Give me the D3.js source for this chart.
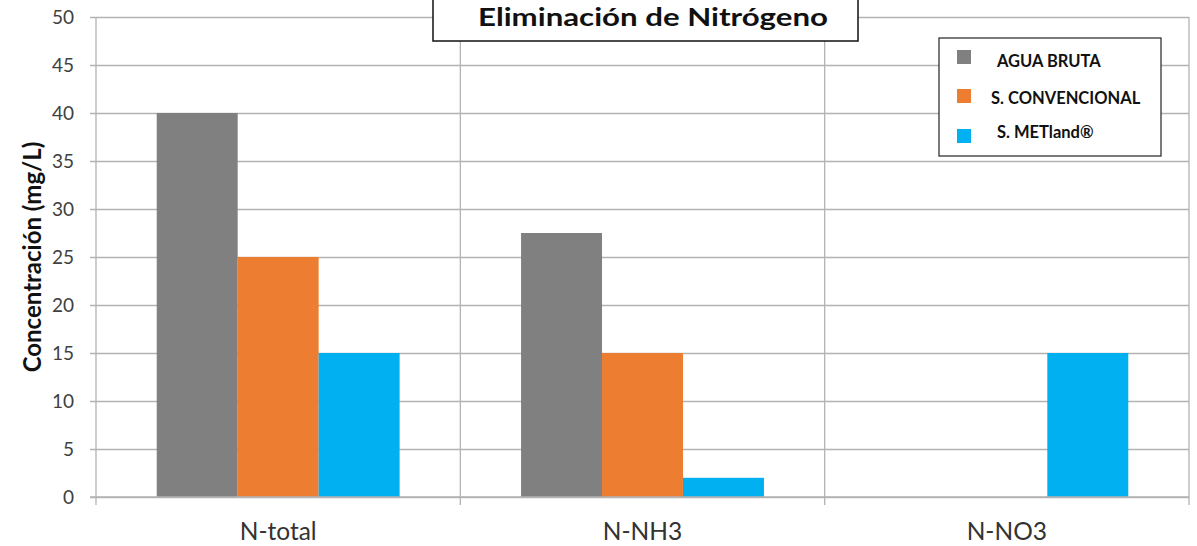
<!DOCTYPE html>
<html>
<head>
<meta charset="utf-8">
<script src="https://cdn.jsdelivr.net/npm/d3@7"></script>
<style>
  html, body { margin: 0; padding: 0; background: #fff; }
  svg { display: block; }
</style>
</head>
<body>
<svg id="chart" width="1197" height="546"></svg>
<script>
// Categories, series and their values (mg/L)
const categories = ["N-total", "N-NH3", "N-NO3"];
const seriesNames = ["AGUA BRUTA", "S. CONVENCIONAL", "S. METland®"];
const aguaBruta = [40, 27.5, 0];
const convencional = [25, 15, 0];
const metland = [15, 2, 15];
const yTicks = [0, 5, 10, 15, 20, 25, 30, 35, 40, 45, 50];
const seriesColors = ["#808080", "#ED7D31", "#00B0F0"];
const seriesValues = [aguaBruta, convencional, metland];

const svg = d3.select("#chart");
const font = "Lato, 'Open Sans', sans-serif";
const margin = { left: 96, right: 1189, top: 17, bottom: 497 };

const y = d3.scaleLinear().domain([0, 50]).range([margin.bottom, margin.top]);
const x = d3.scaleBand().domain(categories).range([margin.left, margin.right]).paddingInner(0).paddingOuter(0);
const xInner = d3.scaleBand().domain(seriesNames).range([0, x.bandwidth()]).paddingInner(0).paddingOuter(0.75);

const gridColor = "#b3b3b3";

// Horizontal gridlines with left tick marks
const yAxis = d3.axisLeft(y).tickValues(yTicks).tickSize(-(margin.right - margin.left)).tickSizeOuter(0).tickPadding(22);
const gy = svg.append("g").attr("transform", `translate(${margin.left},0)`).call(yAxis);
gy.select(".domain").remove();
gy.selectAll(".tick line").attr("stroke", gridColor).attr("stroke-width", 1.3).attr("x1", -6);
gy.selectAll(".tick text").attr("fill", "#404040").style("font-family", font).style("font-size", "19px");

// Vertical separators at category boundaries
const bounds = categories.map(c => x(c)).concat([x(categories[categories.length - 1]) + x.bandwidth()]);
svg.append("g").selectAll("line").data(bounds).join("line")
  .attr("x1", d => d).attr("x2", d => d)
  .attr("y1", margin.top).attr("y2", margin.bottom + 8)
  .attr("stroke", gridColor).attr("stroke-width", 1.3);

// Bars
const groups = svg.append("g").selectAll("g").data(categories).join("g")
  .attr("transform", c => `translate(${x(c)},0)`);
groups.selectAll("rect")
  .data((c, i) => seriesNames.map((s, k) => ({ s, k, v: seriesValues[k][i] })))
  .join("rect")
  .filter(d => d.v > 0)
  .attr("x", d => xInner(d.s))
  .attr("width", xInner.bandwidth())
  .attr("y", d => y(d.v))
  .attr("height", d => y(0) - y(d.v))
  .attr("fill", d => seriesColors[d.k]);

// Baseline
svg.append("line").attr("x1", margin.left - 6).attr("x2", margin.right)
  .attr("y1", y(0)).attr("y2", y(0)).attr("stroke", gridColor).attr("stroke-width", 1.3);

// Category labels
svg.append("g").selectAll("text").data(categories).join("text")
  .attr("x", c => x(c) + x.bandwidth() / 2).attr("y", 540)
  .attr("text-anchor", "middle").attr("fill", "#333")
  .style("font-family", font).style("font-size", "24.5px")
  .text(c => c);

// Y-axis title
svg.append("text")
  .attr("transform", `translate(41,257) rotate(-90)`)
  .attr("text-anchor", "middle").attr("fill", "#111")
  .style("font-family", font).style("font-size", "24px").style("font-weight", "bold")
  .text("Concentración (mg/L)");

// Title box
svg.append("rect").attr("x", 433).attr("y", -3).attr("width", 425).attr("height", 44)
  .attr("fill", "#fff").attr("stroke", "#111").attr("stroke-width", 1.5);
svg.append("text").attr("x", 478).attr("y", 26)
  .attr("textLength", 350).attr("lengthAdjust", "spacingAndGlyphs")
  .attr("fill", "#111").style("font-family", font).style("font-size", "25.5px").style("font-weight", "bold")
  .text("Eliminación de Nitrógeno");

// Legend
const lg = svg.append("g");
lg.append("rect").attr("x", 939).attr("y", 38).attr("width", 222).attr("height", 118)
  .attr("fill", "#fff").attr("stroke", "#222").attr("stroke-width", 1.2);
const legendRows = [
  { sy: 50, ty: 67, tx: 997 },
  { sy: 89, ty: 104, tx: 991 },
  { sy: 129, ty: 138, tx: 997 }
];
seriesNames.forEach((s, k) => {
  lg.append("rect").attr("x", 957).attr("y", legendRows[k].sy).attr("width", 14).attr("height", 14)
    .attr("fill", seriesColors[k]);
  lg.append("text").attr("x", legendRows[k].tx).attr("y", legendRows[k].ty)
    .attr("fill", "#111").style("font-family", font).style("font-size", "16.5px").style("font-weight", "bold")
    .text(s);
});
</script>
</body>
</html>
